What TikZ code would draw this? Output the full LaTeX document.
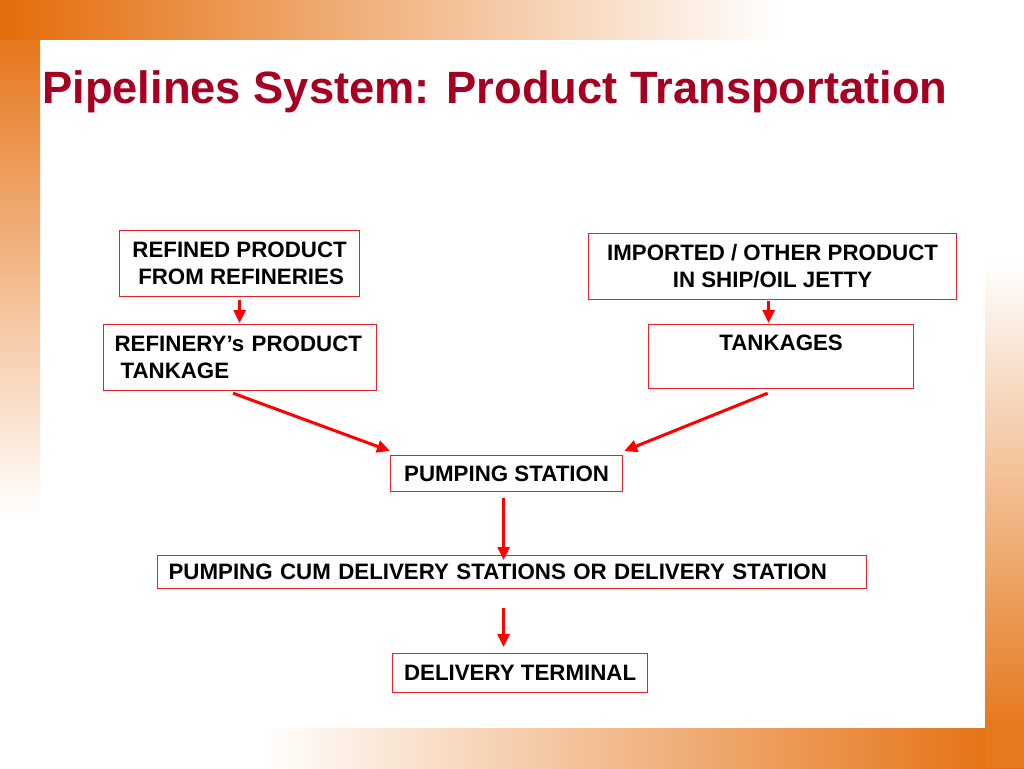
\documentclass[tikz,border=0pt]{standalone}
\usepackage{fontspec}
\setmainfont{Liberation Sans}
\usetikzlibrary{arrows.meta}
\definecolor{orng}{RGB}{228,108,10}
\definecolor{titlered}{RGB}{165,0,33}
\definecolor{boxred}{RGB}{232,32,42}
\definecolor{arrred}{RGB}{255,0,0}
\newcommand\lnstrut{\rule[-5.75pt]{0pt}{26.5pt}}
\tikzset{
  box/.style={draw=boxred, line width=1.2pt, anchor=north west, inner ysep=0pt, inner xsep=0pt,
    font=\fontsize{22.3}{26.5}\selectfont\bfseries, text=black},
  cbox/.style={box, align=center},
  lbox/.style={box, align=left, inner xsep=11pt},
  arr/.style={draw=arrred, line width=3pt, -{Triangle[length=13pt,width=12pt]}}
}
\begin{document}
\begin{tikzpicture}[x=1pt,y=-1pt]
\useasboundingbox (0,0) rectangle (1024,768);
\fill[white] (0,0) rectangle (1024,768);
% decorative gradient strips
\shade[top color=orng, bottom color=white] (0,0) rectangle (40,515);
\shade[left color=orng, right color=white] (0,0) rectangle (780,40);
\shade[top color=white, bottom color=orng] (985,260) rectangle (1024,768);
\shade[left color=white, right color=orng] (260,728) rectangle (1024,768);
\fill[orng!92] (985,728) rectangle (1024,768);
% title
\node[anchor=base west, inner sep=0pt, text=titlered,
  font=\fontsize{45.3}{54}\selectfont\bfseries] (title) at (42,103)
  {Pipelines System: Product Transportation};
% boxes
\node[cbox, minimum width=240pt, minimum height=66pt] (b1) at (119,230)
  {\lnstrut REFINED PRODUCT\\\lnstrut\hspace*{3pt}FROM REFINERIES};
\node[lbox, text width=251pt, minimum width=273pt, minimum height=66pt] (b2) at (103,324)
  {\lnstrut REFINERY’s PRODUCT\\\lnstrut\hspace*{6pt}TANKAGE};
\node[cbox, minimum width=368pt, minimum height=66pt] (b3) at (588,232.7)
  {\lnstrut IMPORTED / OTHER PRODUCT\\\lnstrut IN SHIP/OIL JETTY};
\node[cbox, minimum width=265pt, minimum height=64pt] (b4) at (648,324)
  {\lnstrut TANKAGES\\\lnstrut};
\node[cbox, minimum width=232pt, minimum height=36pt] (ps) at (390,455)
  {\lnstrut PUMPING STATION};
\node[lbox, text width=687pt, minimum width=709pt, minimum height=33pt] (pcd) at (157,555)
  {\lnstrut PUMPING CUM DELIVERY STATIONS OR DELIVERY STATION};
\node[cbox, minimum width=255pt, minimum height=39pt] (dt) at (392,653)
  {\lnstrut DELIVERY TERMINAL};
% connectors
\draw[arr] ([yshift=-3pt]b1.south) -- ([yshift=1pt]b1.south |- b2.north);
\draw[arr] ([xshift=-4pt,yshift=-1pt]b3.south) -- ([xshift=-4pt,yshift=1pt]b3.south |- b4.north);
\draw[arr] ([xshift=-7pt,yshift=-2pt]b2.south) -- ([yshift=4pt]ps.north west);
\draw[arr] ([xshift=-13.5pt,yshift=-4pt]b4.south) -- ([xshift=1pt,yshift=4pt]ps.north east);
\draw[arr] ([xshift=-3pt,yshift=-6pt]ps.south) -- ([xshift=-3pt,yshift=-5pt]ps.south |- pcd.north);
\draw[arr] ([xshift=-3pt,yshift=-19pt]ps.south |- pcd.south) -- ([xshift=-3pt,yshift=6pt]ps.south |- dt.north);
\end{tikzpicture}
\end{document}
